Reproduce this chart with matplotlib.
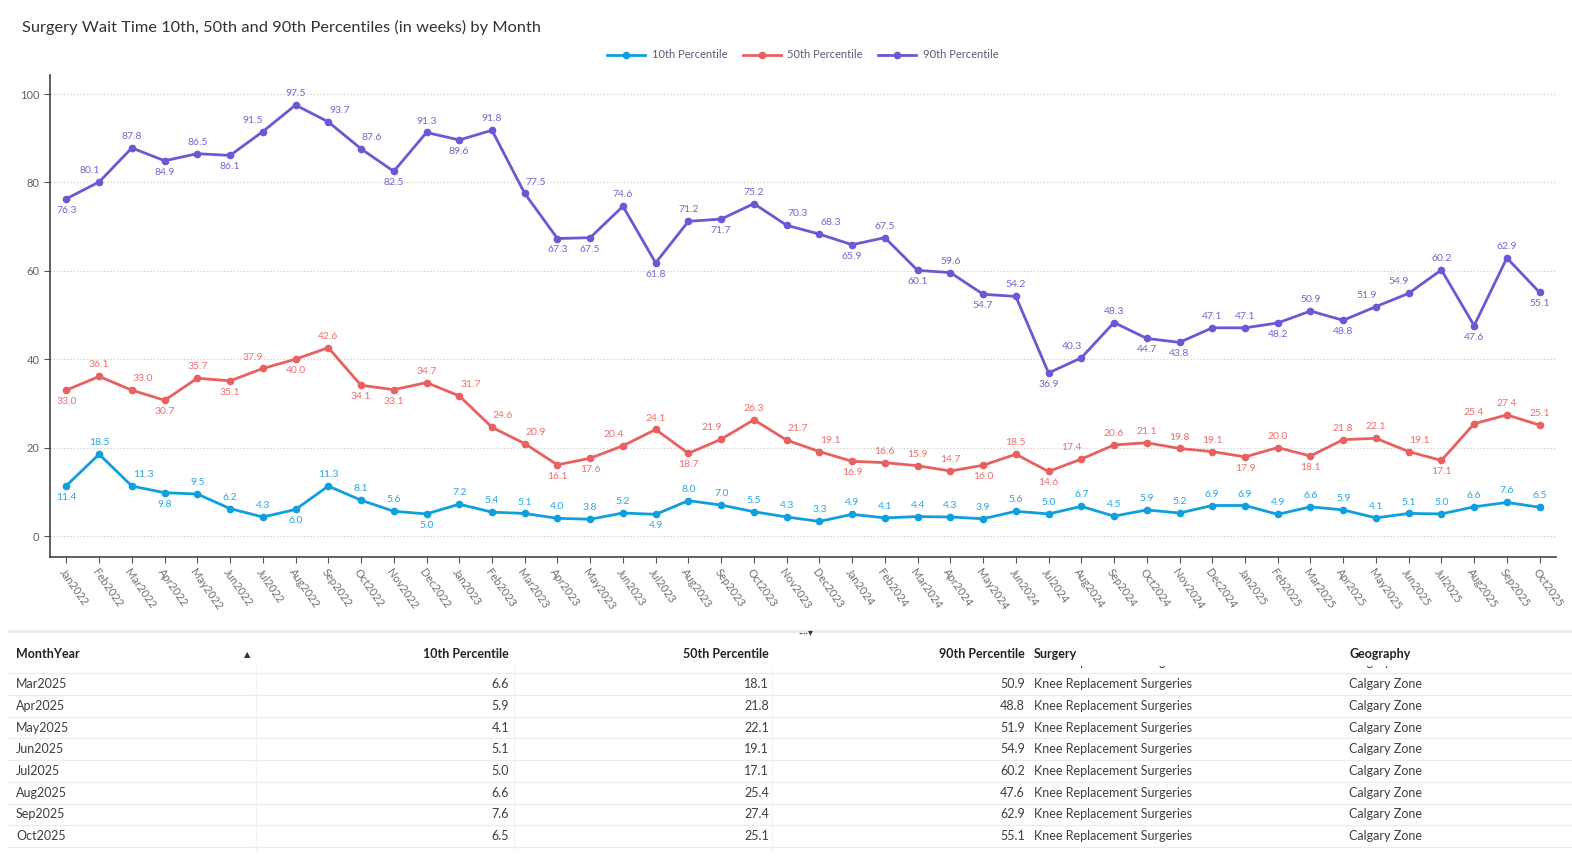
import numpy as np
import matplotlib
matplotlib.use('Agg')
import matplotlib.pyplot as plt
from matplotlib.patches import Rectangle

plt.rcParams['font.family'] = ['Lato', 'DejaVu Sans']

months = ['Jan2022', 'Feb2022', 'Mar2022', 'Apr2022', 'May2022', 'Jun2022', 'Jul2022', 'Aug2022',
          'Sep2022', 'Oct2022', 'Nov2022', 'Dec2022', 'Jan2023', 'Feb2023', 'Mar2023', 'Apr2023',
          'May2023', 'Jun2023', 'Jul2023', 'Aug2023', 'Sep2023', 'Oct2023', 'Nov2023', 'Dec2023',
          'Jan2024', 'Feb2024', 'Mar2024', 'Apr2024', 'May2024', 'Jun2024', 'Jul2024', 'Aug2024',
          'Sep2024', 'Oct2024', 'Nov2024', 'Dec2024', 'Jan2025', 'Feb2025', 'Mar2025', 'Apr2025',
          'May2025', 'Jun2025', 'Jul2025', 'Aug2025', 'Sep2025', 'Oct2025']

p10 = [11.4, 18.5, 11.3, 9.8, 9.5, 6.2, 4.3, 6.0, 11.3, 8.1, 5.6, 5.0, 7.2, 5.4, 5.1, 4.0,
       3.8, 5.2, 4.9, 8.0, 7.0, 5.5, 4.3, 3.3, 4.9, 4.1, 4.4, 4.3, 3.9, 5.6, 5.0, 6.7,
       4.5, 5.9, 5.2, 6.9, 6.9, 4.9, 6.6, 5.9, 4.1, 5.1, 5.0, 6.6, 7.6, 6.5]
p50 = [33.0, 36.1, 33.0, 30.7, 35.7, 35.1, 37.9, 40.0, 42.6, 34.1, 33.1, 34.7, 31.7, 24.6, 20.9, 16.1,
       17.6, 20.4, 24.1, 18.7, 21.9, 26.3, 21.7, 19.1, 16.9, 16.6, 15.9, 14.7, 16.0, 18.5, 14.6, 17.4,
       20.6, 21.1, 19.8, 19.1, 17.9, 20.0, 18.1, 21.8, 22.1, 19.1, 17.1, 25.4, 27.4, 25.1]
p90 = [76.3, 80.1, 87.8, 84.9, 86.5, 86.1, 91.5, 97.5, 93.7, 87.6, 82.5, 91.3, 89.6, 91.8, 77.5, 67.3,
       67.5, 74.6, 61.8, 71.2, 71.7, 75.2, 70.3, 68.3, 65.9, 67.5, 60.1, 59.6, 54.7, 54.2, 36.9, 40.3,
       48.3, 44.7, 43.8, 47.1, 47.1, 48.2, 50.9, 48.8, 51.9, 54.9, 60.2, 47.6, 62.9, 55.1]

surgery = 'Knee Replacement Surgeries'
geography = 'Calgary Zone'

# label placement: a=above, b=below, l=above-left, r=above-right
pos10 = 'barbaaab' + 'aaab' + 'aaaaaa' + 'b' + 'a' * 27
pos50 = 'barbabl' + 'babbarrr' + 'bblablarr' + 'baaababl' + 'aaaababaarbaaa'
pos90 = 'blababl' + 'arrbabar' + 'bbababarr' + 'babababl' + 'abbaababllabab'
assert len(pos10) == len(pos50) == len(pos90) == len(months)

c10, c50, c90 = '#109fde', '#e8605f', '#6a58d4'
lc10, lc50, lc90 = '#2aa6e4', '#ef6f6e', '#7566d0'

fig = plt.figure(figsize=(15.72, 8.57), dpi=100)
fig.patch.set_facecolor('white')
ax = fig.add_axes([50 / 1572, 1 - 557 / 857, 1506 / 1572, 482 / 857])

x = np.arange(len(months))
series = [(p10, c10, lc10, pos10, '10th Percentile'),
          (p50, c50, lc50, pos50, '50th Percentile'),
          (p90, c90, lc90, pos90, '90th Percentile')]
for vals, col, lcol, pos, name in series:
    ax.plot(x, vals, color=col, lw=2.0, marker='o', ms=4.5, label=name, zorder=3)
    for i, v in enumerate(vals):
        p = pos[i]
        if p == 'b':
            ax.annotate('%.1f' % v, (i, v), xytext=(0, -5), textcoords='offset points',
                        ha='center', va='top', fontsize=7.5, color=lcol)
        else:
            dx = {'a': 0, 'l': -7, 'r': 8}[p]
            ax.annotate('%.1f' % v, (i, v), xytext=(dx, 5), textcoords='offset points',
                        ha='center', va='bottom', fontsize=7.5, color=lcol)

ax.set_xlim(-0.5, 45.5)
ax.set_ylim(-4.75, 104.3)
ax.set_yticks([0, 20, 40, 60, 80, 100])
ax.yaxis.grid(True, linestyle=(0, (1, 2)), color='#c8c8c8', lw=0.8)
ax.set_axisbelow(True)
ax.set_xticks(x)
ax.set_xticklabels(months, rotation=-55, ha='left', va='top', rotation_mode='anchor',
                   fontsize=8, color='#707070')
ax.tick_params(axis='x', length=4, color='#555555', pad=3)
ax.tick_params(axis='y', length=4, color='#555555', labelsize=8, labelcolor='#606070')
for s in ['top', 'right']:
    ax.spines[s].set_visible(False)
for s in ['left', 'bottom']:
    ax.spines[s].set_color('#444444')
    ax.spines[s].set_linewidth(1.2)

fig.text(22 / 1572, 1 - 27 / 857, 'Surgery Wait Time 10th, 50th and 90th Percentiles (in weeks) by Month',
         fontsize=11.8, color='#333333', va='center', ha='left')
fig.legend(loc='center', bbox_to_anchor=(803 / 1572, 1 - 55 / 857), ncol=3, frameon=False,
           fontsize=8, labelcolor='#5a5a78', handlelength=3.4, handletextpad=0.6,
           columnspacing=1.4)

# table below the chart, in pixel coordinates
tb = fig.add_axes([0, 0, 1, 232 / 857])
tb.set_xlim(0, 1572)
tb.set_ylim(857, 625)
tb.axis('off')
tb.add_patch(Rectangle((8, 630), 1564, 3, color='#ececec', lw=0))
tb.text(806, 633, '····▾', fontsize=7, color='#333333', ha='center', va='center')

col_x = [16, 509, 769, 1025, 1034, 1349]
row_y0 = 662.5
row_h = 21.7
tbl_font = dict(fontsize=9, color='#3f3f3f', va='center')
start = len(months) - 9
clip = Rectangle((0, 665.5), 1572, 200, transform=tb.transData)
for k in range(9):
    i = start + k
    yy = row_y0 + k * row_h
    row = [tb.text(col_x[0], yy, months[i], ha='left', **tbl_font),
           tb.text(col_x[1], yy, '%.1f' % p10[i], ha='right', **tbl_font),
           tb.text(col_x[2], yy, '%.1f' % p50[i], ha='right', **tbl_font),
           tb.text(col_x[3], yy, '%.1f' % p90[i], ha='right', **tbl_font),
           tb.text(col_x[4], yy, surgery, ha='left', **tbl_font),
           tb.text(col_x[5], yy, geography, ha='left', **tbl_font)]
    for t in row:
        t.set_clip_path(clip)
    tb.plot([8, 1572], [yy + 10.8, yy + 10.8], color='#ebebeb', lw=0.8)

# header covers the scrolled-off row
tb.add_patch(Rectangle((0, 638), 1572, 27.5, color='white', lw=0, zorder=5))
for vx in [256, 514, 772]:
    tb.plot([vx, vx], [640, 850], color='#f2f2f2', lw=0.8, zorder=1)
hdr = dict(fontsize=9, color='#222222', va='center', fontweight='bold', zorder=6)
tb.text(col_x[0], 654, 'MonthYear', ha='left', **hdr)
tb.text(247, 655, '▲', ha='center', fontsize=6, color='#333333', va='center', zorder=6,
        family='DejaVu Sans')
tb.text(col_x[1], 654, '10th Percentile', ha='right', **hdr)
tb.text(col_x[2], 654, '50th Percentile', ha='right', **hdr)
tb.text(col_x[3], 654, '90th Percentile', ha='right', **hdr)
tb.text(col_x[4], 654, 'Surgery', ha='left', **hdr)
tb.text(col_x[5], 654, 'Geography', ha='left', **hdr)

fig.savefig('out.png', dpi=100)
